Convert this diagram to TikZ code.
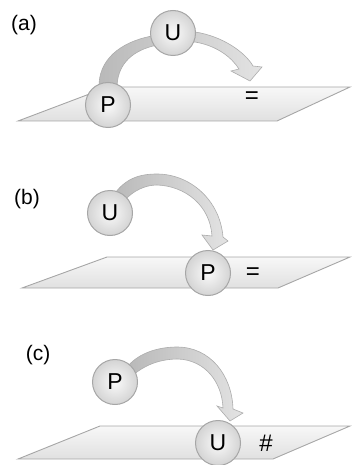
\documentclass[tikz,border=0pt]{standalone}
\usepackage{fontspec}
\setmainfont{Liberation Sans}
\begin{document}
\begin{tikzpicture}[x=1pt,y=-1pt,
  plane/.style={draw=gray!70,line width=0.9pt,top color=gray!6,bottom color=gray!24},
  ball/.style={circle,draw=gray!70,line width=1pt,inner color=gray!4,outer color=gray!34,
    minimum size=45pt,inner sep=0pt,font=\fontsize{23}{25}\selectfont},
  band/.style={draw=gray!65,line width=0.6pt,left color=gray!55,right color=gray!22},
  lab/.style={font=\fontsize{21}{23}\selectfont,inner sep=0pt},
  sym/.style={font=\fontsize{24}{26}\selectfont,inner sep=0pt}]
\useasboundingbox (0,0) rectangle (351,465);

% ---- (a)
\node[lab] (la) at (24,25) {(a)};
\draw[plane] (108,87) -- (350,87) -- (277,121) -- (18,121) -- cycle;
\draw[band] (99,88) .. controls (98,60) and (120,42) .. (152,36)
  -- (195,32) .. controls (222,36) and (245,52) .. (253,66)
  -- (262,67) -- (250,81) -- (231,71) -- (239,69)
  .. controls (232,58) and (218,46) .. (195,42)
  -- (153,46) .. controls (130,52) and (117,66) .. (117,88) -- cycle;
\node[ball] (Ua) at (173,33) {U};
\node[ball] (Pa) at (108,105) {P};
\node[sym] (ea) at (252,98) {=};

% ---- (b)
\node[lab] (lb) at (27,199) {(b)};
\draw[plane] (107,257) -- (350,257) -- (278,288) -- (22,288) -- cycle;
\draw[band] (113,196) .. controls (125,178) and (140,174) .. (157,174)
  .. controls (190,174) and (220,200) .. (223,237)
  -- (228,241) -- (213,250) -- (202,235) -- (212,236)
  .. controls (210,205) and (185,186) .. (157,185)
  .. controls (145,185) and (133,191) .. (125,200) -- cycle;
\node[ball] (Ub) at (110,213) {U};
\node[ball] (Pb) at (208,273) {P};
\node[sym] (eb) at (253,274) {=};

% ---- (c)
\node[lab] (lc) at (38,355) {(c)};
\draw[plane] (100,426) -- (350,426) -- (273,459) -- (18,459) -- cycle;
\draw[band] (128,366) .. controls (140,352) and (160,347) .. (177,347)
  .. controls (210,347) and (232,375) .. (233,409)
  -- (243,413) -- (230,421) -- (217,406) -- (223,408)
  .. controls (222,382) and (205,360) .. (178,359)
  .. controls (160,359) and (145,365) .. (133,375) -- cycle;
\node[ball] (Pc) at (115,382) {P};
\node[ball] (Uc) at (218,443) {U};
\node[sym] (hc) at (266,443) {\#};
\end{tikzpicture}
\end{document}
